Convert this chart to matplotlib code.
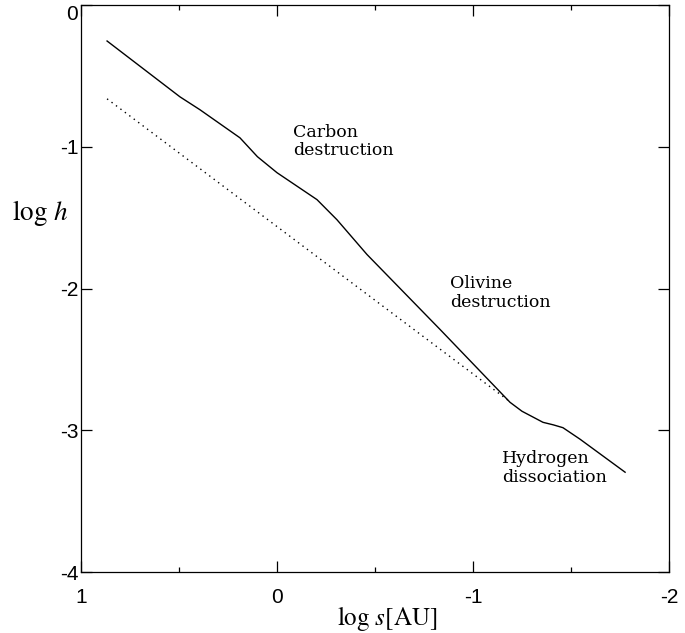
"""
log h versus log s: solid model curve with the dotted h ~ s reference line
"""
import matplotlib
matplotlib.use("Agg")
import matplotlib.pyplot as plt
from matplotlib.ticker import MultipleLocator

# solid curve
log_s = [0.867, 0.495, 0.393, 0.189, 0.10, 0.0, -0.204, -0.306, -0.459,
         -0.832, -1.189, -1.25, -1.357, -1.41, -1.459, -1.546, -1.776]
log_h = [-0.254, -0.648, -0.739, -0.937, -1.07, -1.183, -1.373, -1.515, -1.76,
         -2.289, -2.803, -2.866, -2.944, -2.962, -2.982, -3.063, -3.296]

# dotted reference line
ref_s = [0.867, -1.19]
ref_h = [-0.662, -2.80]

x_ticks = [1, 0, -1, -2]
y_ticks = [0, -1, -2, -3, -4]

labels = ["Carbon\ndestruction", "Olivine\ndestruction", "Hydrogen\ndissociation"]
label_pos = [(-0.082, -0.838), (-0.883, -1.908), (-1.148, -3.141)]

plt.rcParams['mathtext.fontset'] = 'stix'

fig = plt.figure(figsize=(6.85, 6.33), dpi=100)
ax = fig.add_axes([81 / 685, 61 / 633, 588 / 685, 567 / 633])

ax.plot(log_s, log_h, color='black', lw=1.0)
ax.plot(ref_s, ref_h, color='black', lw=1.0, linestyle=(0, (1, 3.0)))

ax.set_xlim(1, -2)
ax.set_ylim(-4, 0)

ax.set_xticks(x_ticks)
ax.set_yticks(y_ticks)
ax.xaxis.set_minor_locator(MultipleLocator(0.5))
ax.set_xticklabels([str(v) for v in x_ticks])
ax.set_yticklabels([str(v) for v in y_ticks])

for lab in ax.get_xticklabels() + ax.get_yticklabels():
    lab.set_fontfamily(['Liberation Sans Narrow', 'Liberation Sans'])
    lab.set_fontsize(15)
# top label sits inside the figure
ax.get_yticklabels()[0].set_va('top')

ax.tick_params(which='both', direction='in', top=True, right=True, width=0.9)
ax.tick_params(which='major', length=8)
ax.tick_params(which='minor', length=3.6)
ax.tick_params(axis='x', which='major', pad=11.5)
ax.tick_params(axis='y', which='major', pad=2)

for sp in ax.spines.values():
    sp.set_linewidth(0.9)

ax.set_xlabel(r'$\log\,s[\mathrm{AU}]$', fontsize=18, va='top')
ax.xaxis.set_label_coords(0.52, -0.056)
ax.set_ylabel(r'$\log\,h$', fontsize=19.5, rotation=0, ha='left', va='center')
ax.yaxis.set_label_coords(-0.117, 0.633)

for text, (tx, ty) in zip(labels, label_pos):
    ax.text(tx, ty, text, ha='left', va='top', fontsize=12.5,
            family='DejaVu Serif', linespacing=1.1)

fig.savefig('out.png', dpi=100)
